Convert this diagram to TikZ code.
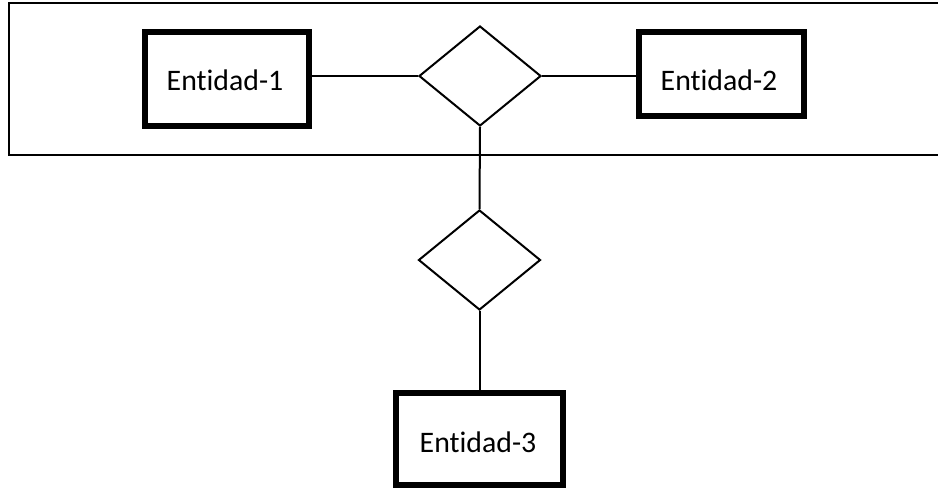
\documentclass[tikz,border=0pt]{standalone}
\usepackage{fontspec}
\setmainfont[Ligatures={NoCommon}]{Carlito}
\usetikzlibrary{shapes.geometric}
\begin{document}
\begin{tikzpicture}[x=0.5pt,y=-0.5pt,
  entbox/.style={draw,line width=3pt,inner sep=0pt},
  enttext/.style={anchor=base,inner sep=0pt,font=\fontsize{14.9pt}{17pt}\selectfont},
  relbox/.style={draw,diamond,line width=1pt,inner sep=0pt,shape aspect=1.22,minimum width=61pt,minimum height=50pt},
  conn/.style={line width=1pt},
  frame/.style={line width=1pt}]
\useasboundingbox (0,0) rectangle (938,488);
\fill[white] (0,0) rectangle (938,488);
\coordinate (ftr) at (945,3);
\coordinate (fbr) at (945,155);
\draw[frame] (ftr) -- (9,3) -- (9,155) -- (fbr);
\node[entbox,minimum width=82pt,minimum height=47pt] (e1) at (227,79) {};
\node[entbox,minimum width=82.5pt,minimum height=42pt] (e2) at (721.5,74) {};
\node[entbox,minimum width=83.5pt,minimum height=46pt] (e3) at (479.5,439) {};
\node[enttext] (t1) at (225,90) {Entidad-1};
\node[enttext] (t2) at (719,90) {Entidad-2};
\node[enttext] (t3) at (478,452) {Entidad-3};
\node[relbox] (d1) at (480,76) {};
\node[relbox] (d2) at (479.5,260) {};
\draw[conn] (d1.west -| e1.east) -- (d1.west);
\draw[conn] (d1.east) -- (d1.east -| e2.west);
\draw[conn] (d1.south) -- (d2.north);
\draw[conn] (d2.south) -- (e3.north);
\end{tikzpicture}
\end{document}
